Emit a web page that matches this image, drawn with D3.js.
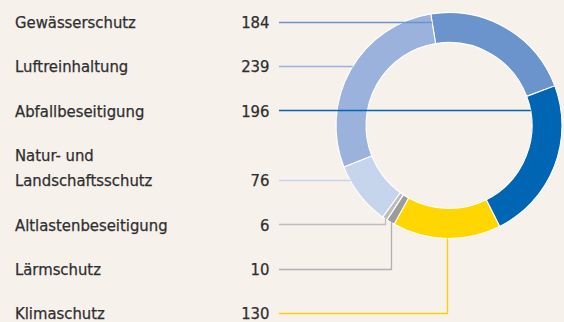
<!DOCTYPE html>
<html>
<head>
<meta charset="utf-8">
<script src="https://cdn.jsdelivr.net/npm/d3@7"></script>
<style>
  html, body { margin: 0; padding: 0; background: #f7f1ec; }
  svg { display: block; }
  text { font-family: "DejaVu Sans Condensed", "DejaVu Sans", sans-serif; font-stretch: condensed; fill: #2e2e2e; stroke: #2e2e2e; stroke-width: 0.25px; }
</style>
</head>
<body>
<svg id="chart" width="564" height="322"></svg>
<script>
// Ausgaben nach Umweltbereich (Werte je Kategorie)
const categories = ["Gewässerschutz", "Luftreinhaltung", "Abfallbeseitigung", "Natur- und Landschaftsschutz", "Altlastenbeseitigung", "Lärmschutz", "Klimaschutz"];
const labelLines = [["Gewässerschutz"], ["Luftreinhaltung"], ["Abfallbeseitigung"], ["Natur- und", "Landschaftsschutz"], ["Altlastenbeseitigung"], ["Lärmschutz"], ["Klimaschutz"]];
const values = [184, 239, 196, 76, 6, 10, 130];
// clockwise order of the segments around the ring
const ringOrder = ["Gewässerschutz", "Abfallbeseitigung", "Klimaschutz", "Lärmschutz", "Altlastenbeseitigung", "Natur- und Landschaftsschutz", "Luftreinhaltung"];
const colors = ["#6b94cd", "#9ab2dc", "#0066b3", "#c6d4ec", "#bdbdbd", "#9c9c9c", "#ffd600"];
const lineColors = ["#6b94cd", "#9ab2dc", "#0066b3", "#c6d4ec", "#bdbdbd", "#b0b0b0", "#ffd000"];

const svg = d3.select("#chart");
const cx = 449, cy = 125.5, rOuter = 113, rInner = 83;
const startAngle = -9.3 * Math.PI / 180;

const data = categories.map((c, i) => ({ name: c, value: values[i], lines: labelLines[i], color: colors[i], lineColor: lineColors[i], idx: i }));

const pie = d3.pie()
  .value(d => d.value)
  .sort((a, b) => ringOrder.indexOf(a.name) - ringOrder.indexOf(b.name))
  .startAngle(startAngle)
  .endAngle(startAngle + 2 * Math.PI);
const arcs = pie(data);
const arcGen = d3.arc().innerRadius(rInner).outerRadius(rOuter);

const g = svg.append("g").attr("transform", `translate(${cx},${cy})`);
g.selectAll("path").data(arcs).join("path")
  .attr("d", arcGen)
  .attr("fill", d => d.data.color)
  .attr("stroke", "#ffffff")
  .attr("stroke-width", 1.1);

// label rows
const rowTop = 21.5, rowGap = 44.3, lineHeight = 25.5;
let acc = rowTop;
const rowY = [];
data.forEach((d, i) => {
  if (i > 0) acc += rowGap + (d.lines.length - 1) * lineHeight;
  rowY.push(acc);
});

const labelX = 15, valueX = 269.5, leaderX0 = 279;
const fontSize = 16.5;

// does point (x,y) lie on a given arc segment?
function onSegment(a, x, y) {
  const dx = x - cx, dy = y - cy;
  const r = Math.hypot(dx, dy);
  if (r < rInner || r > rOuter) return false;
  let ang = Math.atan2(dx, -dy);
  while (ang < a.startAngle) ang += 2 * Math.PI;
  while (ang >= a.startAngle + 2 * Math.PI) ang -= 2 * Math.PI;
  return ang <= a.endAngle;
}

const leaders = svg.append("g");
arcs.forEach(a => {
  const d = a.data;
  const y = Math.round(rowY[d.idx]) + 0.5;
  // first point where the row line meets its segment
  let hit = null;
  for (let x = leaderX0; x <= 564; x += 0.25) {
    if (onSegment(a, x, y)) { hit = x; break; }
  }
  let pts;
  if (hit !== null) {
    pts = [[leaderX0, y], [hit, y]];
  } else {
    const mid = (a.startAngle + a.endAngle) / 2;
    const px = cx + rOuter * Math.sin(mid);
    const py = cy - rOuter * Math.cos(mid);
    const xe = Math.round(px) + 0.5;
    pts = [[leaderX0, y], [xe, y], [xe, py]];
  }
  leaders.append("path")
    .attr("d", d3.line()(pts))
    .attr("fill", "none")
    .attr("stroke", d.lineColor)
    .attr("stroke-width", 1.3);

  const base = rowY[d.idx] + 6.5;
  const t = svg.append("text")
    .attr("x", labelX)
    .attr("y", base - (d.lines.length - 1) * lineHeight)
    .attr("font-size", fontSize);
  d.lines.forEach((ln, k) => {
    t.append("tspan").attr("x", labelX).attr("dy", k === 0 ? 0 : lineHeight).text(ln);
  });
  svg.append("text")
    .attr("x", valueX)
    .attr("y", base)
    .attr("text-anchor", "end")
    .attr("font-size", fontSize)
    .text(d3.format("d")(d.value));
});
</script>
</body>
</html>
